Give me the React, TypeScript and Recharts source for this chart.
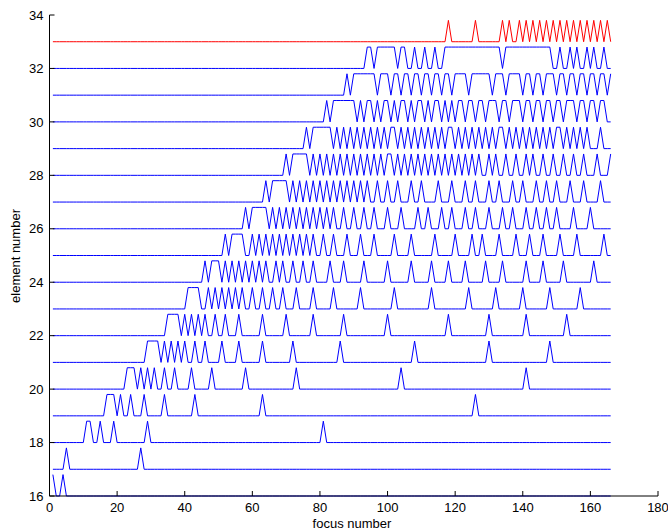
import React from 'react';
import { LineChart, Line, XAxis, YAxis, Label } from 'recharts';

// focus numbers sampled along the x axis
const focusNumbers: number[] = Array.from({ length: 166 }, (_, i) => i + 1);

// element numbers (one trace per element)
const elements: number[] = [16, 17, 18, 19, 20, 21, 22, 23, 24, 25, 26, 27, 28, 29, 30, 31, 32, 33];

// height of a pulse above each element's baseline
const PEAK = 0.8;

// focus numbers at which each element's trace is raised
const e16High = [1, 4];
const e17High = [5, 27];
const e18High = [11, 12, 15, 19, 29, 81];
const e19High = [17, 18, 19, 21, 24, 28, 34, 43, 63, 126];
const e20High = [23, 24, 25, 27, 29, 31, 34, 37, 42, 48, 58, 73, 104, 141];
const e21High = [29, 30, 31, 32, 34, 36, 38, 40, 43, 46, 51, 56, 63, 72, 86, 108, 130, 148];
const e22High = [35, 36, 37, 38, 40, 42, 44, 46, 49, 52, 56, 63, 70, 78, 87, 100, 118, 130, 141, 153];
const e23High = [41, 42, 43, 44, 47, 49, 51, 53, 55, 57, 60, 63, 66, 69, 73, 78, 84, 92, 102, 113, 124, 132, 140, 148, 157];
const e24High = [46, 48, 49, 50, 52, 54, 56, 58, 60, 62, 64, 67, 69, 72, 75, 78, 83, 87, 93, 100, 107, 113, 118, 123, 129, 134, 141, 146, 152, 161];
const e25High = [52, 54, 55, 56, 57, 60, 62, 64, 66, 68, 70, 72, 74, 76, 78, 81, 84, 88, 92, 96, 102, 107, 114, 120, 125, 128, 133, 138, 142, 146, 151, 156, 164];
const e26High = [58, 60, 61, 62, 63, 64, 66, 68, 70, 72, 74, 76, 78, 80, 82, 84, 87, 90, 93, 96, 100, 104, 109, 112, 116, 119, 123, 126, 130, 134, 137, 141, 144, 147, 150, 155, 160];
const e27High = [64, 66, 67, 68, 69, 70, 72, 74, 76, 78, 80, 82, 84, 86, 88, 90, 92, 94, 97, 100, 103, 107, 110, 115, 119, 123, 126, 130, 133, 137, 140, 144, 147, 150, 154, 158, 163];
const e28High = [70, 72, 73, 74, 75, 76, 78, 80, 82, 84, 86, 88, 90, 92, 94, 96, 98, 100, 101, 103, 105, 107, 109, 111, 113, 115, 117, 119, 121, 123, 125, 127, 130, 132, 135, 138, 141, 143, 146, 149, 152, 155, 158, 162, 166];
const e29High = [76, 78, 79, 80, 81, 82, 83, 85, 87, 89, 91, 93, 95, 97, 99, 101, 102, 104, 106, 108, 110, 112, 114, 116, 118, 119, 121, 123, 125, 127, 129, 131, 133, 134, 136, 138, 140, 142, 144, 146, 148, 150, 151, 153, 155, 157, 159, 163];
const e30High = [82, 84, 85, 86, 87, 88, 89, 90, 92, 94, 95, 97, 99, 100, 102, 104, 105, 107, 109, 110, 112, 114, 115, 117, 119, 121, 122, 124, 125, 127, 128, 130, 131, 132, 134, 135, 137, 138, 139, 141, 142, 144, 145, 147, 148, 150, 151, 153, 154, 155, 157, 158, 160, 161, 163, 164];
const e31High = [88, 90, 91, 92, 93, 94, 95, 96, 98, 99, 100, 102, 103, 105, 106, 108, 109, 111, 112, 114, 115, 117, 118, 120, 121, 122, 123, 125, 126, 127, 128, 129, 130, 132, 133, 134, 136, 137, 138, 139, 141, 142, 144, 145, 147, 148, 149, 151, 152, 154, 155, 157, 158, 160, 161, 163, 164, 166];
const e32High = [94, 95, 97, 98, 99, 100, 101, 102, 104, 105, 108, 111, 114, 117, 118, 119, 120, 121, 122, 123, 124, 125, 126, 127, 128, 129, 130, 131, 132, 133, 135, 136, 137, 138, 139, 140, 141, 142, 143, 144, 145, 146, 147, 148, 151, 154, 156, 159, 161, 164];
const e33High = [118, 126, 134, 136, 139, 141, 143, 145, 147, 149, 151, 153, 155, 157, 159, 161, 163, 165];

const highByElement: Record<number, number[]> = {
  16: e16High, 17: e17High, 18: e18High, 19: e19High, 20: e20High, 21: e21High,
  22: e22High, 23: e23High, 24: e24High, 25: e25High, 26: e26High, 27: e27High,
  28: e28High, 29: e29High, 30: e30High, 31: e31High, 32: e32High, 33: e33High,
};

const xTicks = [0, 20, 40, 60, 80, 100, 120, 140, 160, 180];
const yTicks = [16, 18, 20, 22, 24, 26, 28, 30, 32, 34];

const data = focusNumbers.map((f) => {
  const row: Record<string, number> = { focus: f };
  elements.forEach((n) => {
    row['e' + n] = n + (highByElement[n].includes(f) ? PEAK : 0);
  });
  return row;
});

const FONT = '"Liberation Sans", Arial, Helvetica, sans-serif';

export default function App() {
  return (
    <div style={{ position: 'absolute', left: 0, top: 0, background: '#fff' }}>
      <LineChart
        width={668}
        height={531}
        data={data}
        margin={{ top: 15, right: 10, bottom: 5, left: 9.5 }}
      >
        <XAxis
          dataKey="focus"
          type="number"
          domain={[0, 180]}
          ticks={xTicks}
          height={30}
          stroke="#000"
          tickSize={-5}
          tickMargin={12}
          tick={{ fill: '#000', fontSize: 13, fontFamily: FONT }}
          axisLine={{ stroke: '#000' }}
          tickLine={{ stroke: '#000' }}
          interval={0}
        >
          <Label
            content={() => (
              <text x={352} y={528} textAnchor="middle" fontSize={13} fontFamily={FONT} fill="#000">
                focus number
              </text>
            )}
          />
        </XAxis>
        <YAxis
          type="number"
          domain={[16, 34]}
          ticks={yTicks}
          width={40}
          stroke="#000"
          tickSize={-5}
          tickMargin={11}
          tick={{ fill: '#000', fontSize: 13, fontFamily: FONT }}
          axisLine={{ stroke: '#000' }}
          tickLine={{ stroke: '#000' }}
          interval={0}
        >
          <Label
            content={() => (
              <text
                x={20}
                y={256}
                textAnchor="middle"
                fontSize={13}
                fontFamily={FONT}
                fill="#000"
                transform="rotate(-90 20 256)"
              >
                element number
              </text>
            )}
          />
        </YAxis>
        {elements.map((n) => (
          <Line
            key={n}
            dataKey={'e' + n}
            type="linear"
            stroke={n === 33 ? '#ff0000' : '#0000ff'}
            strokeWidth={1}
            dot={false}
            activeDot={false}
            isAnimationActive={false}
          />
        ))}
      </LineChart>
    </div>
  );
}
